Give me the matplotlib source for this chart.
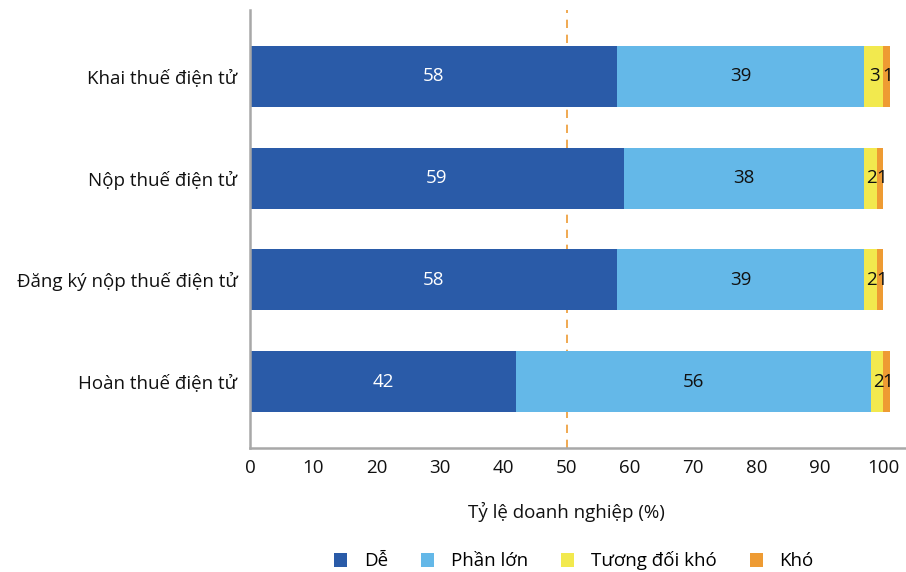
import matplotlib.pyplot as plt
from matplotlib.patches import Patch
import numpy as np

plt.rcParams['font.family'] = ['Open Sans', 'DejaVu Sans']

categories = ['Khai thuế điện tử', 'Nộp thuế điện tử', 'Đăng ký nộp thuế điện tử', 'Hoàn thuế điện tử']
series_names = ['Dễ', 'Phần lớn', 'Tương đối khó', 'Khó']
de = [58, 59, 58, 42]
phan_lon = [39, 38, 39, 56]
tuong_doi_kho = [3, 2, 2, 2]
kho = [1, 1, 1, 1]

colors = ['#2A5BA8', '#64B8E8', '#F2E94E', '#EE9B33']
text_colors = ['white', '#111111', '#111111', '#111111']
fs = 13.5

fig = plt.figure(figsize=(9.06, 5.72), dpi=100)
ax = fig.add_axes([250 / 906, 1 - 448 / 572, 656 / 906, 438 / 572])

y = np.arange(len(categories))
left = np.zeros(len(categories))
for name, vals, c, tc in zip(series_names, [de, phan_lon, tuong_doi_kho, kho], colors, text_colors):
    vals = np.array(vals, dtype=float)
    ax.barh(y, vals, left=left, height=0.6, color=c, label=name)
    for yi, l, v in zip(y, left, vals):
        # small segments: nudge the digit so "3" and "1" sit side by side
        x = l + v / 2 if v >= 5 else l + v / 2 + 0.2
        ax.text(x, yi, f'{v:.0f}', ha='center', va='center', color=tc, fontsize=fs)
    left += vals

ax.axvline(50, color='#EE9B33', linestyle=(0, (5, 4)), linewidth=1.2, zorder=0)

ax.set_xlim(0, 103.6)
ax.set_ylim(3.654, -0.654)
ax.set_xticks(range(0, 101, 10))
ax.set_yticks(y)
ax.set_yticklabels(categories, fontsize=fs)
ax.tick_params(axis='both', length=0, labelsize=fs, colors='#111111')
ax.tick_params(axis='y', pad=9)
ax.tick_params(axis='x', pad=8)
for s in ['top', 'right']:
    ax.spines[s].set_visible(False)
for s in ['left', 'bottom']:
    ax.spines[s].set_color('#A8A8A8')
    ax.spines[s].set_linewidth(1.8)

ax.text(50, 4.28, 'Tỷ lệ doanh nghiệp (%)', ha='center', va='center', fontsize=fs, color='#111111')

handles = [Patch(facecolor=c, edgecolor='none') for c in colors]
fig.legend(handles, series_names, loc='center', bbox_to_anchor=(574 / 906, 1 - 561 / 572),
           ncol=4, frameon=False, fontsize=fs, handlelength=0.7, handleheight=0.7,
           columnspacing=1.75, handletextpad=0.9)

fig.savefig('out.png', dpi=100)
